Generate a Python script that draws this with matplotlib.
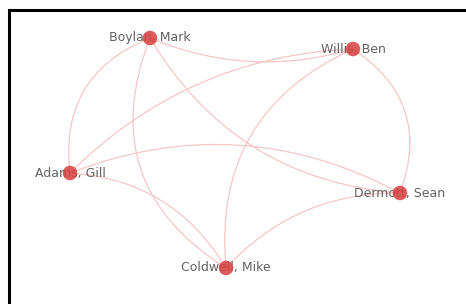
import numpy as np
import matplotlib
matplotlib.use("Agg")
import matplotlib.pyplot as plt
from matplotlib.path import Path
from matplotlib.patches import PathPatch
from matplotlib.lines import Line2D

# node layout (pixel space of the original picture)
names = ["Boylan, Mark", "Willis, Ben", "Adams, Gill", "Dermott, Sean", "Coldwell, Mike"]
node_x = [150, 353, 70, 400, 226]
node_y = [38, 49, 173, 193, 268]

# links between people
edge_src = [0, 0, 0, 0, 1, 1, 1, 2, 2, 3]
edge_dst = [2, 1, 4, 3, 2, 3, 4, 3, 4, 4]

# how far each link bows away from the straight line (style only)
bend = [30, 18, 50, 38, 30, -30, 45, -38, -24, 21]

W, H = 466, 304
fig = plt.figure(figsize=(W / 100, H / 100), dpi=100)
ax = fig.add_axes([0, 0, 1, 1])
ax.set_xlim(0, W)
ax.set_ylim(H, 0)
ax.axis("off")

for s, t, b in zip(edge_src, edge_dst, bend):
    p0 = np.array([node_x[s], node_y[s]], dtype=float)
    p2 = np.array([node_x[t], node_y[t]], dtype=float)
    d = p2 - p0
    n = np.array([-d[1], d[0]]) / np.hypot(*d)
    ctrl = (p0 + p2) / 2 + 2 * b * n
    path = Path([p0, ctrl, p2], [Path.MOVETO, Path.CURVE3, Path.CURVE3])
    ax.add_patch(PathPatch(path, facecolor="none", edgecolor="#f6c6c6",
                           lw=0.9, zorder=1))

for name, x, y in zip(names, node_x, node_y):
    ax.text(x, y, name, ha="center", va="center", fontsize=9,
            color="#616161", zorder=2)

ax.scatter(node_x, node_y, s=110, color="#d8403f", alpha=0.85,
           edgecolors="none", zorder=3)

# frame lines on top and left
fig.add_artist(Line2D([9 / W, 1], [1 - 10 / H, 1 - 10 / H], color="black",
                      lw=2.2, transform=fig.transFigure))
fig.add_artist(Line2D([9 / W, 9 / W], [0, 1 - 10 / H], color="black",
                      lw=2.2, transform=fig.transFigure))

fig.savefig("out.png", dpi=100)
